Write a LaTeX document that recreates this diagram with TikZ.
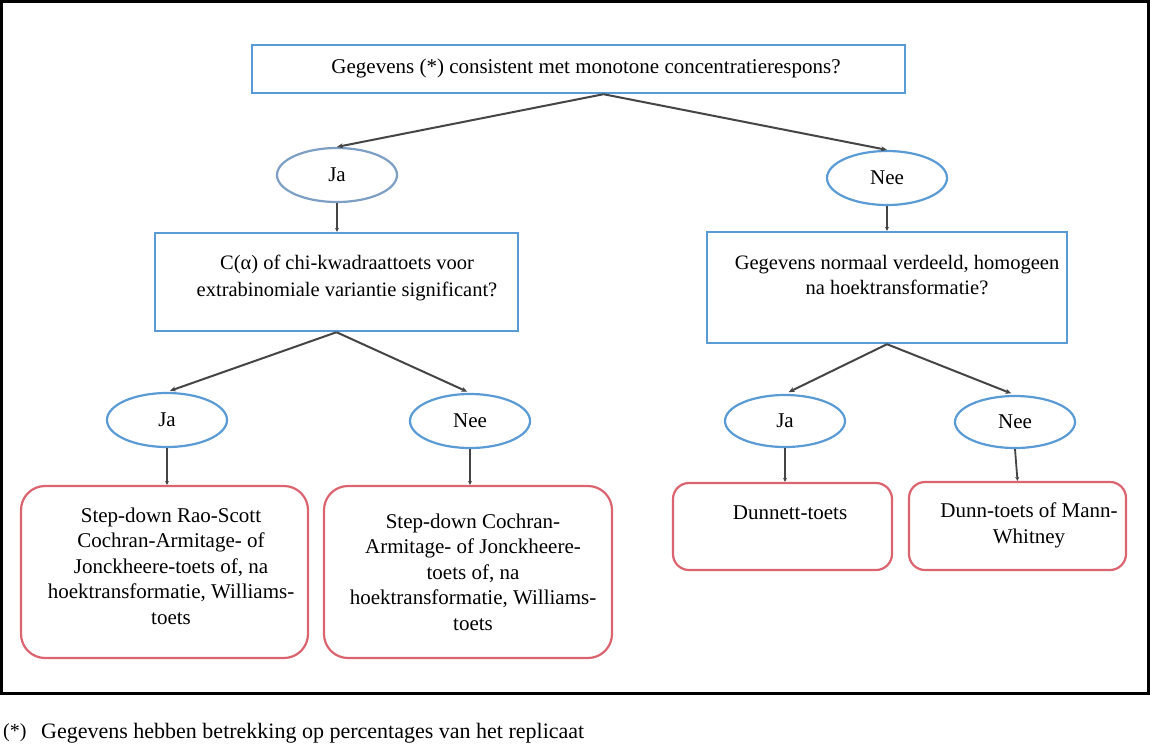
\documentclass[tikz,border=0pt]{standalone}
\usepackage{fontspec}
\setmainfont{Liberation Serif}
\usetikzlibrary{shapes.geometric,arrows.meta}
\definecolor{bluebd}{HTML}{5B9BD5}
\definecolor{blueja}{HTML}{7E9FC4}
\definecolor{redbd}{HTML}{DC6470}
\definecolor{arr}{HTML}{454545}
\begin{document}
\begin{tikzpicture}[x=1pt,y=-1pt,
  every node/.style={font=\fontsize{21}{25.5}\selectfont},
  qbox/.style={draw=bluebd, line width=2.4pt, rectangle, inner sep=0pt},
  yn/.style={draw=bluebd, line width=2.2pt, ellipse, inner sep=0pt, minimum width=120pt, minimum height=54pt},
  res/.style={draw=redbd, line width=2.2pt, rectangle, rounded corners=24pt, inner sep=0pt},
  ressmall/.style={res, rounded corners=16pt},
  txt/.style={align=center, inner sep=0pt},
  conn/.style={draw=arr, line width=2pt, -{Stealth[length=6pt,width=5pt]}},
  vconn/.style={draw=arr, line width=1.8pt, -{Stealth[length=4pt,width=4pt]}}
]
\useasboundingbox (0,0) rectangle (1150,745);
\fill[white] (0,0) rectangle (1150,745);
\draw[line width=3pt] (1.5,1.5) rectangle (1148.5,693);

% level 0
\node[qbox, minimum width=653pt, minimum height=48pt] (top) at (578.5,69) {};
\node[txt] (toptxt) at (586,68) {Gegevens (*) consistent met monotone concentratierespons?};

% level 1
\node[yn, draw=blueja] (ja1) at (337,175) {Ja};
\node[yn] (nee1) at (887,178) {Nee};

% level 2
\node[qbox, minimum width=363pt, minimum height=98pt] (cbox) at (336.5,282) {};
\node[txt, font=\fontsize{20.5}{27}\selectfont] (ctxt) at (347,277.5) {C(α) of chi-kwadraattoets voor\\extrabinomiale variantie significant?};
\node[qbox, minimum width=360pt, minimum height=111pt] (rbox) at (887,287.5) {};
\node[txt, font=\fontsize{20.5}{25}\selectfont] (rtxt) at (897,275) {Gegevens normaal verdeeld, homogeen\\na hoektransformatie?};

% level 3
\node[yn] (ja2) at (167,420) {Ja};
\node[yn] (nee2) at (470,421) {Nee};
\node[yn, minimum height=52pt] (ja3) at (785,421) {Ja};
\node[yn, minimum height=52pt] (nee3) at (1015,422) {Nee};

% level 4
\node[res, minimum width=287pt, minimum height=172pt] (res1) at (164.5,572) {};
\node[txt] (res1txt) at (171,566) {Step-down Rao-Scott\\Cochran-Armitage- of\\Jonckheere-toets of, na\\hoektransformatie, Williams-\\toets};
\node[res, minimum width=288pt, minimum height=172pt] (res2) at (468,572) {};
\node[txt] (res2txt) at (473,572) {Step-down Cochran-\\Armitage- of Jonckheere-\\toets of, na\\hoektransformatie, Williams-\\toets};
\node[ressmall, minimum width=219pt, minimum height=87pt] (res3) at (782.5,526.5) {};
\node[txt] (res3txt) at (790,513) {Dunnett-toets};
\node[ressmall, minimum width=217pt, minimum height=88pt] (res4) at (1017.5,526) {};
\node[txt] (res4txt) at (1029,525.5) {Dunn-toets of Mann-\\Whitney};

% connectors
\draw[conn] ([xshift=25pt]top.south) -- (ja1.north);
\draw[conn] ([xshift=25pt]top.south) -- (nee1.north);
\draw[vconn] (ja1.south) -- (ja1.south |- cbox.north);
\draw[vconn] (nee1.south) -- (nee1.south |- rbox.north);
\draw[conn, shorten >=3pt] (cbox.south) -- (ja2.north);
\draw[conn, shorten >=3pt] (cbox.south) -- (nee2.north);
\draw[conn, shorten >=4pt] (rbox.south) -- (ja3.north);
\draw[conn, shorten >=4pt] (rbox.south) -- (nee3.north);
\draw[vconn] (ja2.south) -- (ja2.south |- res1.north);
\draw[vconn] (nee2.south) -- (nee2.south |- res2.north);
\draw[vconn] (ja3.south) -- (ja3.south |- res3.north);
\draw[vconn] (nee3.south) -- (res4.north);

% footnote
\node[txt, anchor=west, font=\fontsize{20}{24}\selectfont] (fnmark) at (3,733) {(*)};
\node[txt, anchor=west, font=\fontsize{22}{24}\selectfont] (fntxt) at (41,733) {Gegevens hebben betrekking op percentages van het replicaat};
\end{tikzpicture}
\end{document}
